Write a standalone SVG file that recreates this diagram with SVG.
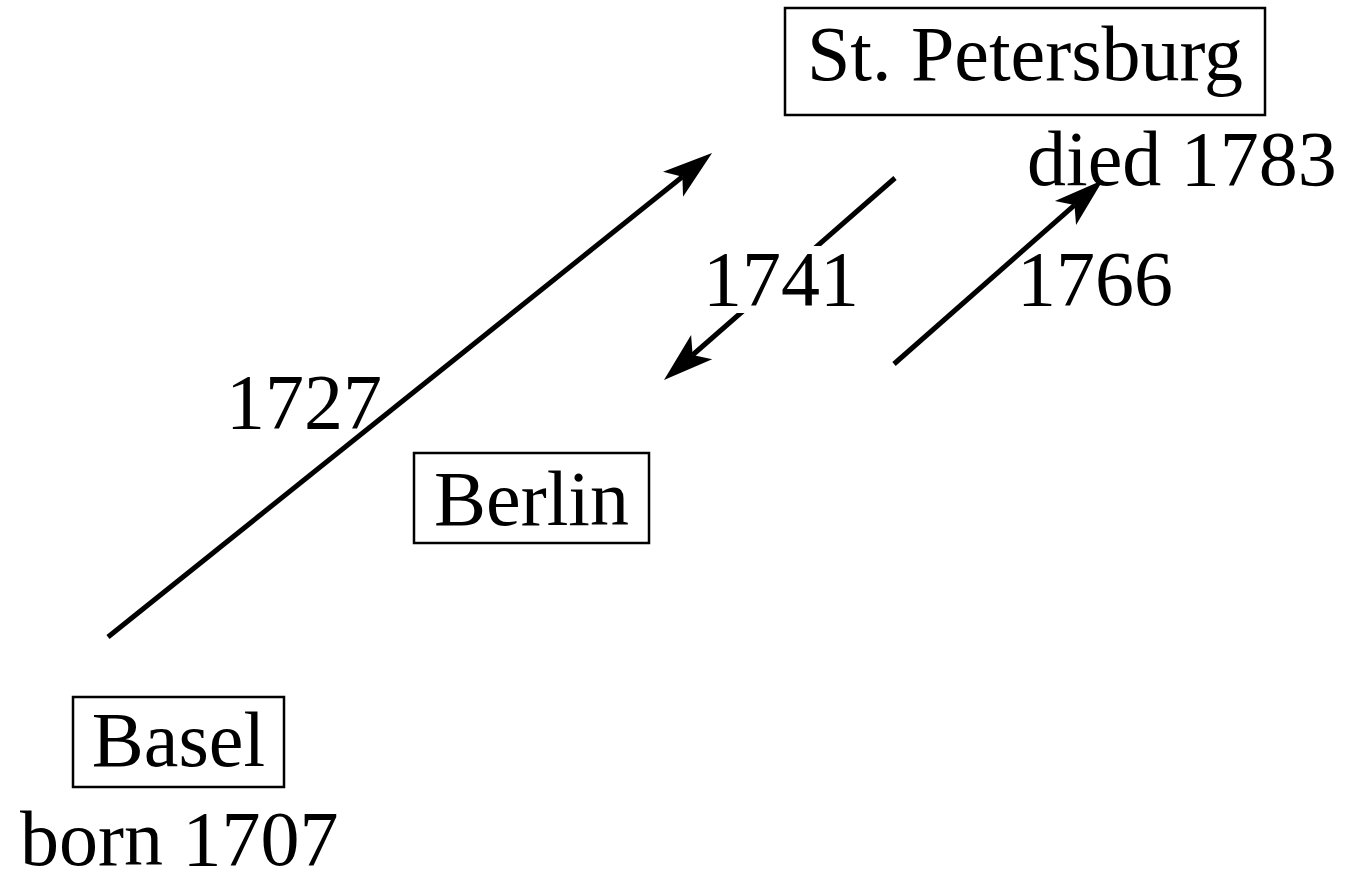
<svg xmlns="http://www.w3.org/2000/svg" width="1347" height="872" viewBox="0 0 1347 872">
<style>
text{font-family:"Liberation Serif","Times New Roman",serif;font-size:78px;fill:#000}
.box{fill:#fff;stroke:#000;stroke-width:2.5}
.conn{stroke:#000;stroke-width:5;fill:none;marker-end:url(#ah)}
.bg{fill:#fff}
</style>
<defs>
<marker id="ah" markerUnits="userSpaceOnUse" markerWidth="60" markerHeight="40" refX="0" refY="0" orient="auto" overflow="visible" viewBox="-20 -20 60 40">
<path d="M38,0 L-12,-16 L0,0 L-12,16 Z" fill="#000"/>
</marker>
</defs>
<rect width="1347" height="872" fill="#fff"/>
<g id="connectors">
<line class="conn" x1="108" y1="637" x2="682.4" y2="176.8"/>
<line class="conn" x1="895" y1="178" x2="692.6" y2="355"/>
<line class="conn" x1="894" y1="364" x2="1074.5" y2="205.1"/>
<text x="226" y="428">1727</text>
<rect class="bg" x="698" y="246" width="160" height="67"/>
<text x="703" y="305">1741</text>
<text x="1017" y="305">1766</text>
</g>
<g id="stpetersburg">
<rect class="box" x="785" y="8" width="480" height="107"/>
<text x="1025" y="80" text-anchor="middle">St. Petersburg</text>
<text x="1027" y="185">died 1783</text>
</g>
<g id="berlin">
<rect class="box" x="414" y="453" width="235" height="90"/>
<text x="531.5" y="525" text-anchor="middle">Berlin</text>
</g>
<g id="basel">
<rect class="box" x="73" y="697" width="211" height="90"/>
<text x="178.5" y="766" text-anchor="middle">Basel</text>
<text x="20" y="865">born 1707</text>
</g>
</svg>
